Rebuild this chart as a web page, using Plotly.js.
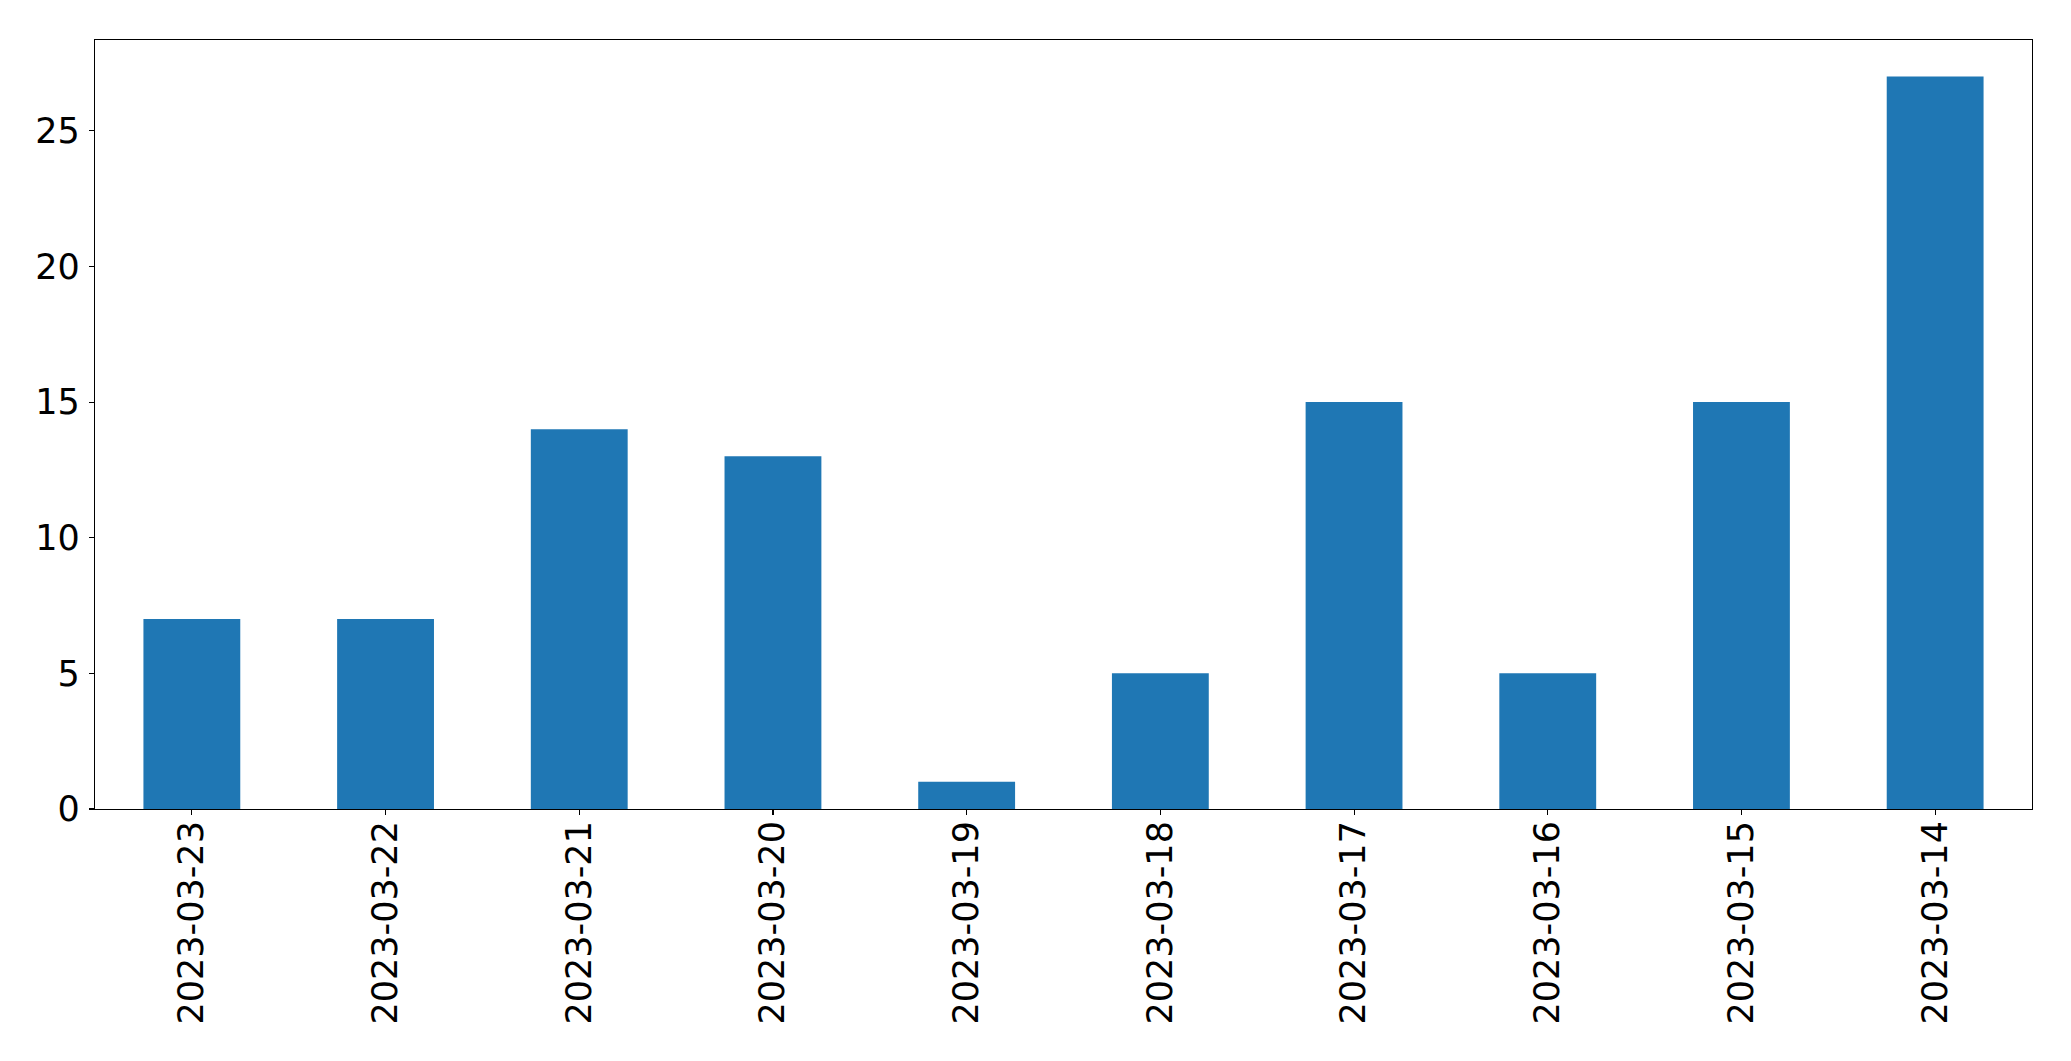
<!DOCTYPE html>
<html>
<head>
<meta charset="utf-8">
<script src="https://cdn.plot.ly/plotly-3.0.1.min.js"></script>
<style>html,body{margin:0;padding:0;background:#fff;}#chart{width:2071px;height:1061px;}</style>
</head>
<body>
<div id="chart"></div>
<script>
const dates = ["2023-03-23","2023-03-22","2023-03-21","2023-03-20","2023-03-19","2023-03-18","2023-03-17","2023-03-16","2023-03-15","2023-03-14"];
const counts = [7, 7, 14, 13, 1, 5, 15, 5, 15, 27];
const yTicks = [0, 5, 10, 15, 20, 25];

const trace = {
  type: 'bar',
  x: dates,
  y: counts,
  marker: {color: '#1f77b4', line: {width: 0}},
  hoverinfo: 'x+y'
};
const fontFam = 'DejaVu Sans, sans-serif';
const layout = {
  width: 2071, height: 1061,
  margin: {l: 94.5, r: 39, t: 40, b: 252, pad: 0},
  paper_bgcolor: '#fff', plot_bgcolor: '#fff',
  showlegend: false,
  bargap: 0.5,
  font: {family: fontFam, size: 35, color: '#000'},
  xaxis: {
    type: 'category',
    range: [-0.5, 9.5],
    tickangle: -90,
    ticks: 'outside', ticklen: 5, tickwidth: 1.1, tickcolor: '#000',
    showline: true, linecolor: '#000', linewidth: 1.1, mirror: true,
    showgrid: false, zeroline: false,
    tickfont: {family: fontFam, size: 35, color: '#000'},
    ticklabelstandoff: -8
  },
  yaxis: {
    range: [0, 28.35],
    tickvals: yTicks,
    ticktext: yTicks.map(String),
    ticks: 'outside', ticklen: 5, tickwidth: 1.1, tickcolor: '#000',
    showline: true, linecolor: '#000', linewidth: 1.1, mirror: true,
    showgrid: false, zeroline: false,
    tickfont: {family: fontFam, size: 35, color: '#000'},
    ticklabelstandoff: 2
  }
};
Plotly.newPlot('chart', [trace], layout, {displayModeBar: false, staticPlot: true});
</script>
</body>
</html>
